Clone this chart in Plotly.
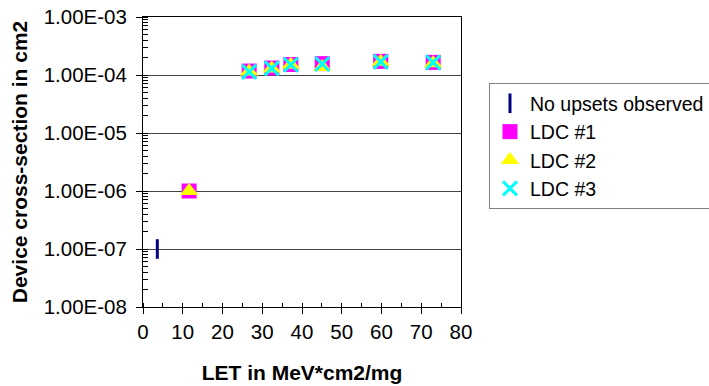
import plotly.graph_objects as go

# Data
let_no_upsets = [3.6]
xs_no_upsets = [1.0e-7]

let_ldc = [11.6, 26.7, 32.4, 37.2, 45.1, 59.8, 73.0]
xs_ldc1 = [1.0e-6, 1.17e-4, 1.32e-4, 1.52e-4, 1.57e-4, 1.72e-4, 1.65e-4]
xs_ldc2 = [1.0e-6, 1.15e-4, 1.30e-4, 1.50e-4, 1.38e-4, 1.70e-4, 1.60e-4]
xs_ldc3 = [None, 1.13e-4, 1.30e-4, 1.50e-4, 1.55e-4, 1.68e-4, 1.65e-4]

y_tickvals = [1e-8, 1e-7, 1e-6, 1e-5, 1e-4, 1e-3]
y_ticktext = ["1.00E-08", "1.00E-07", "1.00E-06", "1.00E-05", "1.00E-04", "1.00E-03"]

FONT = "Liberation Sans, Arial, sans-serif"

fig = go.Figure()
fig.add_trace(go.Scatter(
    x=let_no_upsets, y=xs_no_upsets, mode="markers", name="No upsets observed",
    legendgroup="a",
    marker=dict(symbol="line-ns", size=14, line=dict(color="#000080", width=3), color="#000080"),
))
fig.add_trace(go.Scatter(
    x=let_ldc, y=xs_ldc1, mode="markers", name="LDC #1", legendgroup="b",
    marker=dict(symbol="square", size=15, color="#FF00FF"),
))
fig.add_trace(go.Scatter(
    x=let_ldc, y=xs_ldc2, mode="markers", name="LDC #2", legendgroup="c",
    marker=dict(symbol="triangle-up", size=16, color="#FFFF00"),
))
fig.add_trace(go.Scatter(
    x=let_ldc, y=xs_ldc3, mode="markers", name="LDC #3", legendgroup="d",
    marker=dict(symbol="x-thin", size=14, color="#00FFFF", line=dict(color="#00FFFF", width=3)),
))

fig.update_layout(
    width=709, height=386,
    margin=dict(l=143, r=248, t=17, b=79, autoexpand=False),
    paper_bgcolor="white", plot_bgcolor="white",
    font=dict(family=FONT, size=20.5, color="black"),
    showlegend=True,
    legend=dict(
        x=1.088, y=0.772, xanchor="left", yanchor="top",
        bordercolor="#808080", borderwidth=1, bgcolor="white",
        font=dict(family=FONT, size=19.5, color="black"),
        tracegroupgap=0, itemwidth=30,
    ),
)
fig.update_xaxes(
    range=[0, 80], dtick=10, tick0=0,
    showline=True, linecolor="black", linewidth=1, mirror=True,
    ticks="outside", ticklen=6, tickcolor="black",
    minor=dict(ticks="inside", ticklen=4, dtick=5, tickcolor="black"),
    showgrid=False, zeroline=False, automargin=False,
    title=dict(text="<b>LET in MeV*cm2/mg</b>", font=dict(size=21, family=FONT), standoff=23),
)
fig.update_yaxes(
    type="log", range=[-8, -3],
    tickvals=y_tickvals, ticktext=y_ticktext,
    showline=True, linecolor="black", linewidth=1, mirror=True,
    ticks="outside", ticklen=6, tickcolor="black", ticklabelstandoff=5,
    minor=dict(ticks="inside", ticklen=5, dtick="D1", tickcolor="black", showgrid=False),
    showgrid=True, gridcolor="#444444", gridwidth=1, zeroline=False, automargin=False,
    title=dict(text="<b>Device cross-section in cm2</b>", font=dict(size=21, family=FONT), standoff=10),
)

fig.write_html("out.html", config={"displayModeBar": False},
               post_script="document.body.style.margin='0';")
